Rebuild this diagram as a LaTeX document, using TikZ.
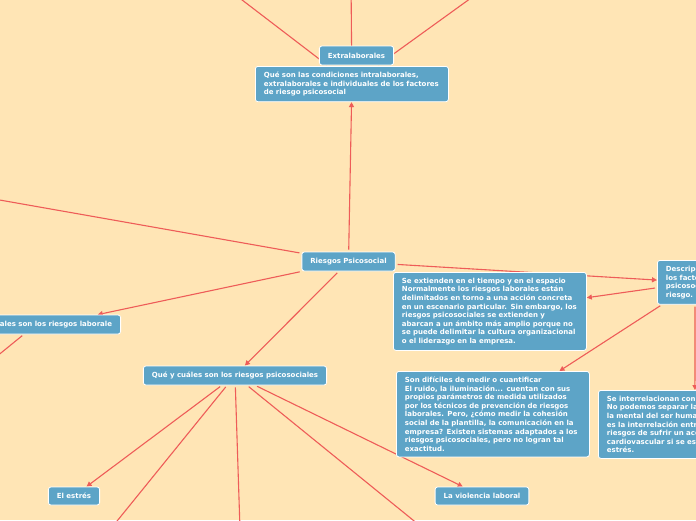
\documentclass[tikz,border=0pt]{standalone}
\usepackage{fontspec}
\setmainfont{DejaVu Sans}
\usetikzlibrary{arrows.meta,backgrounds}
\definecolor{fondo}{RGB}{255,229,181}
\definecolor{azulcaja}{RGB}{93,164,199}
\definecolor{linea}{RGB}{238,92,88}

\begin{document}
\begin{tikzpicture}[x=1pt, y=-1pt,
  caja/.style={draw=white, line width=0.8pt, fill=azulcaja, rounded corners=2.5pt,
    text=white, font=\fontsize{7}{8.6}\selectfont\bfseries, inner xsep=8.5pt, inner ysep=5.5pt},
  tema/.style={caja, minimum height=19pt, inner ysep=0pt},
  bloque/.style={caja, align=left, text width=176pt},
  rama/.style={draw=linea, line width=1.1pt, shorten <=2pt, -{Triangle[length=5pt, width=5pt]}}]
  \useasboundingbox (0,0) rectangle (696,520);
  \clip (0,0) rectangle (696,520);
  \node[tema] (extra) at (356.5,55.5) {Extralaborales};
  \node[bloque, anchor=north west] (condic) at (255,66) {Qué son las condiciones intralaborales,\\extralaborales e individuales de los factores\\de riesgo psicosocial};
  \node[tema] (riesgos) at (348.5,261.5) {Riesgos Psicosocial};
  \node[tema, anchor=east] (cuales) at (121,324.5) {Cuales son los riesgos laborale};
  \node[caja, align=left, anchor=north west] (descrip) at (657,260) {Descripción de\\los factores\\psicosociales\\riesgo.};
  \node[bloque, anchor=north west] (extienden) at (393,272) {Se extienden en el tiempo y en el espacio\\Normalmente los riesgos laborales están\\delimitados en torno a una acción concreta\\en un escenario particular. Sin embargo, los\\riesgos psicosociales se extienden y\\abarcan a un ámbito más amplio porque no\\se puede delimitar la cultura organizacional\\o el liderazgo en la empresa.};
  \node[bloque, anchor=north west] (dificiles) at (396,371) {Son difíciles de medir o cuantificar\\El ruido, la iluminación... cuentan con sus\\propios parámetros de medida utilizados\\por los técnicos de prevención de riesgos\\laborales. Pero, ¿cómo medir la cohesión\\social de la plantilla, la comunicación en la\\empresa? Existen sistemas adaptados a los\\riesgos psicosociales, pero no logran tal\\exactitud.};
  \node[bloque, anchor=north west] (interrel) at (598,390) {Se interrelacionan con la salud\\No podemos separar la salud física de\\la mental del ser humano. Un ejemplo\\es la interrelación entre el estrés y los\\riesgos de sufrir un accidente\\cardiovascular si se está sometido a\\estrés.};
  \node[tema] (queycuales) at (235,375.5) {Qué y cuáles son los riesgos psicosociales};
  \node[tema, minimum height=18pt] (estres) at (74,496) {El estrés};
  \node[tema, minimum height=18pt] (violencia) at (482,496) {La violencia laboral};
  \coordinate (arriba1) at (216,-20);
  \coordinate (arriba2) at (351,-20);
  \coordinate (arriba3) at (496,-20);
  \coordinate (izq) at (-40,193);
  \coordinate (cualesfuera) at (-20,370);
  \coordinate (abajo1) at (96,547);
  \coordinate (abajo2) at (241,560);
  \coordinate (abajo3) at (440,542);
  \begin{pgfonlayer}{background}
    \clip (0,0) rectangle (696,520);
    \fill[fondo] (0,0) rectangle (696,520);
    \draw[rama] (condic) -- (arriba1);
    \draw[rama] (condic) -- (arriba2);
    \draw[rama] (condic) -- (arriba3);
    \draw[rama] (riesgos) -- (condic);
    \draw[rama] (riesgos) -- (izq);
    \draw[rama] (riesgos) -- (cuales);
    \draw[rama] (cuales.-160) -- (cualesfuera);
    \draw[rama] (riesgos) -- (queycuales);
    \draw[rama] (riesgos) -- (descrip);
    \draw[rama] (descrip) -- (extienden);
    \draw[rama] (descrip.-146) -- (dificiles);
    \draw[rama] (descrip) -- (interrel);
    \draw[rama] (queycuales) -- (estres);
    \draw[rama] (queycuales) -- (abajo1);
    \draw[rama] (queycuales) -- (abajo2);
    \draw[rama] (queycuales) -- (abajo3);
    \draw[rama] (queycuales) -- (violencia);
  \end{pgfonlayer}
\end{tikzpicture}
\end{document}
